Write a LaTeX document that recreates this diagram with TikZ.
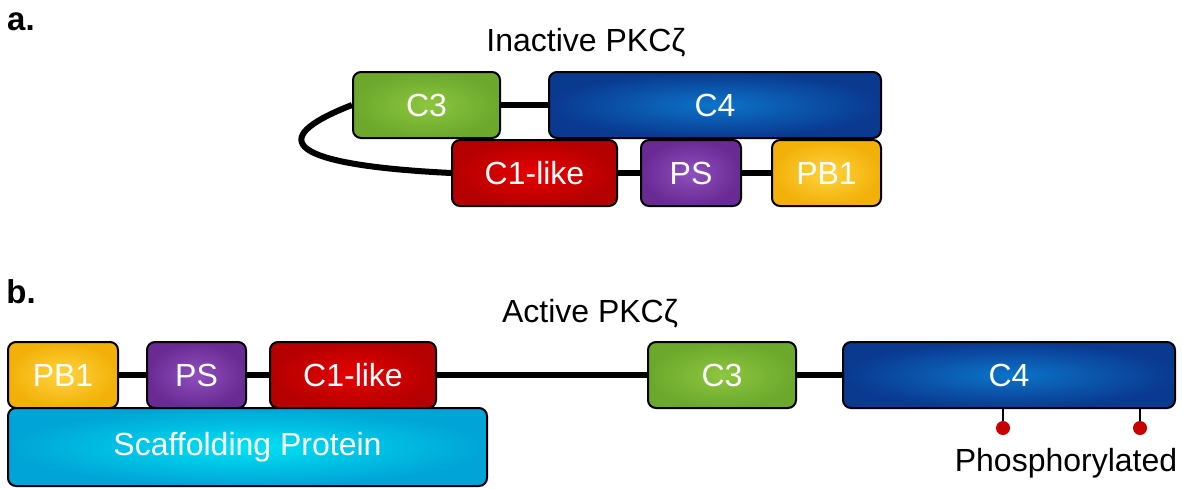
\documentclass[tikz,border=0pt]{standalone}
\usepackage{fontspec}
\setmainfont{Liberation Sans}
\usetikzlibrary{backgrounds}

\definecolor{grnin}{HTML}{8DC63F}
\definecolor{grnout}{HTML}{6BA82C}
\definecolor{bluin}{HTML}{0B74C8}
\definecolor{bluout}{HTML}{0A3990}
\definecolor{redin}{HTML}{E80000}
\definecolor{redout}{HTML}{B40000}
\definecolor{purin}{HTML}{8E50BE}
\definecolor{purout}{HTML}{6A2A93}
\definecolor{yelin}{HTML}{FFD43F}
\definecolor{yelout}{HTML}{F2B008}
\definecolor{cyain}{HTML}{00E2F4}
\definecolor{cyaout}{HTML}{00A4D6}
\definecolor{phos}{HTML}{C80000}

\tikzset{
  dom/.style={draw=black,line width=1pt,rounded corners=4pt,text=white,
    minimum height=33pt,inner sep=0pt,font=\fontsize{16}{19}\selectfont},
  link/.style={line width=3pt},
  lbl/.style={font=\fontsize{16}{19}\selectfont},
}

\begin{document}
\begin{tikzpicture}[x=0.5pt,y=-0.5pt]
\useasboundingbox (0,0) rectangle (1183,488);
\coordinate (A3) at (426.5,105);
\coordinate (A4) at (715,105);
\coordinate (A1) at (534.5,173);
\coordinate (AP) at (691,173);
\coordinate (AB) at (826.5,173);
\coordinate (BB) at (63,375);
\coordinate (BP) at (196.5,375);
\coordinate (B1) at (353,375);
\coordinate (B3) at (722,375);
\coordinate (B4) at (1009,375);
\coordinate (S) at (247.5,447);
\coordinate (P1) at (1003,428);
\coordinate (P2) at (1140,428);

\node[lbl,font=\fontsize{16.5}{19}\selectfont\bfseries] (la) at (21,22) {a.};
\node[lbl] (ta) at (586,43) {Inactive PKCζ};
\node[lbl,font=\fontsize{16.5}{19}\selectfont\bfseries] (lb) at (21,292) {b.};
\node[lbl] (tb) at (590,314) {Active PKCζ};

\node[dom,minimum width=73.5pt,inner color=grnin,outer color=grnout] (c3a) at (A3) {C3};
\node[dom,minimum width=166pt,inner color=bluin,outer color=bluout] (c4a) at (A4) {C4};
\node[dom,minimum width=82.5pt,inner color=redin,outer color=redout] (c1a) at (A1) {C1-like};
\node[dom,minimum width=50pt,inner color=purin,outer color=purout] (psa) at (AP) {PS};
\node[dom,minimum width=54.5pt,inner color=yelin,outer color=yelout] (pb1a) at (AB) {PB1};

\node[dom,minimum width=55pt,inner color=yelin,outer color=yelout] (pb1b) at (BB) {PB1};
\node[dom,minimum width=49.5pt,inner color=purin,outer color=purout] (psb) at (BP) {PS};
\node[dom,minimum width=83pt,inner color=redin,outer color=redout] (c1b) at (B1) {C1-like};
\node[dom,minimum width=74pt,inner color=grnin,outer color=grnout] (c3b) at (B3) {C3};
\node[dom,minimum width=166pt,inner color=bluin,outer color=bluout] (c4b) at (B4) {C4};
\node[dom,minimum width=239.5pt,minimum height=39pt,inner color=cyain,outer color=cyaout] (scaf) at (S) {Scaffolding Protein};

\begin{scope}[on background layer]
\draw[link] (c3a.east) -- (c4a.west);
\draw[link] (c1a.east) -- (psa.west);
\draw[link] (psa.east) -- (pb1a.west);
\draw[link] (c3a.west) .. controls (262,140) and (290,165) .. (c1a.west);
\draw[link] (pb1b.east) -- (psb.west);
\draw[link] (psb.east) -- (c1b.west);
\draw[link] (c1b.east) -- (c3b.west);
\draw[link] (c3b.east) -- (c4b.west);
\end{scope}

\foreach \p in {P1,P2}{
  \draw[line width=1pt] (\p |- c4b.south) -- (\p);
  \fill[phos] (\p) circle (3.5pt);
}
\node[lbl] (ph) at (1066,463) {Phosphorylated};
\end{tikzpicture}
\end{document}
